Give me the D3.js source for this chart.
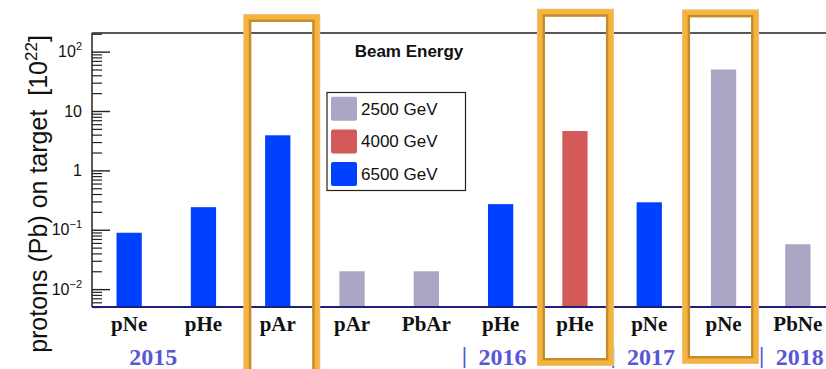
<!DOCTYPE html>
<html>
<head>
<meta charset="utf-8">
<script src="https://cdn.jsdelivr.net/npm/d3@7"></script>
<style>
  body { margin: 0; background: #fff; }
  svg { display: block; }
  text { white-space: pre; }
</style>
</head>
<body>
<svg id="chart" width="826" height="369"></svg>
<script>
// data
var targets = ["pNe", "pHe", "pAr", "pAr", "PbAr", "pHe", "pHe", "pNe", "pNe", "PbNe"];
var energies = [6500, 6500, 6500, 2500, 2500, 6500, 4000, 6500, 2500, 2500];
var protonsOnTarget = [0.089, 0.24, 3.9, 0.020, 0.020, 0.27, 4.6, 0.29, 50, 0.057];
var energyLabels = ["2500 GeV", "4000 GeV", "6500 GeV"];
var energyKeys = [2500, 4000, 6500];
var yearLabels = ["2015", "2016", "2017", "2018"];
var yearStart = [0.5, 5, 7, 9];      // in bins
var highlighted = [2, 6, 8];         // boxed bins
var majorTicks = [0.01, 0.1, 1, 10, 100];

var margin = {top: 33, left: 92, bottom: 307, right: 835};
var svg = d3.select("#chart");

var x = d3.scaleBand()
    .domain(d3.range(targets.length))
    .range([margin.left, margin.right])
    .paddingInner(0.66)
    .paddingOuter(0.33);

var y = d3.scaleLog()
    .domain([0.005, 206])
    .range([margin.bottom, margin.top]);

var color = d3.scaleOrdinal()
    .domain(energyKeys)
    .range(["#aba6c3", "#d35a58", "#0040ff"]);

// bars
svg.append("g").selectAll("rect")
    .data(protonsOnTarget)
    .enter().append("rect")
    .attr("x", function (d, i) { return x(i); })
    .attr("y", function (d) { return y(d); })
    .attr("width", x.bandwidth())
    .attr("height", function (d) { return y(0.005) - y(d); })
    .attr("fill", function (d, i) { return color(energies[i]); });

// frame
svg.append("line")
    .attr("x1", margin.left).attr("x2", 826)
    .attr("y1", margin.top).attr("y2", margin.top)
    .attr("stroke", "#222").attr("stroke-width", 1.5);
svg.append("line")
    .attr("x1", margin.left).attr("x2", margin.left)
    .attr("y1", margin.top).attr("y2", margin.bottom)
    .attr("stroke", "#222").attr("stroke-width", 1.5);

// minor ticks
var minor = [];
[0.001, 0.01, 0.1, 1, 10, 100].forEach(function (dec) {
    for (var k = 2; k <= 9; k++) {
        var v = dec * k;
        if (v >= 0.005 && v <= 206) minor.push(v);
    }
});
svg.append("g")
    .attr("transform", "translate(" + margin.left + ",0)")
    .call(d3.axisLeft(y).tickValues(minor).tickSize(-10).tickFormat(""))
    .call(function (g) { g.select(".domain").remove(); })
    .selectAll("line").attr("stroke", "#222").attr("stroke-width", 1.2);

// major ticks + labels
var gy = svg.append("g")
    .attr("transform", "translate(" + margin.left + ",0)")
    .call(d3.axisLeft(y).tickValues(majorTicks).tickSize(-18).tickPadding(10));
gy.select(".domain").remove();
gy.selectAll("line").attr("stroke", "#222").attr("stroke-width", 1.4);
gy.selectAll("text")
    .attr("font-family", "'Liberation Sans', Arial, sans-serif")
    .attr("font-size", 16)
    .attr("fill", "#111")
    .each(function (d) {
        var t = d3.select(this).text("");
        var e = Math.round(Math.log10(d));
        if (e === 0) { t.text("1"); return; }
        if (e === 1) { t.text("10"); return; }
        t.append("tspan").text("10");
        t.append("tspan").attr("dy", -7).attr("font-size", 11)
            .text(e < 0 ? "\u2212" + (-e) : e);
    });

// bottom axis line
svg.append("line")
    .attr("x1", margin.left).attr("x2", 826)
    .attr("y1", margin.bottom).attr("y2", margin.bottom)
    .attr("stroke", "#1f1f78").attr("stroke-width", 2.2);

// category labels
svg.append("g").selectAll("text")
    .data(targets)
    .enter().append("text")
    .attr("x", function (d, i) { return x(i) + x.bandwidth() / 2; })
    .attr("y", 331)
    .attr("text-anchor", "middle")
    .attr("font-family", "'Liberation Serif', 'Times New Roman', serif")
    .attr("font-weight", "bold")
    .attr("font-size", 21)
    .attr("fill", "#111")
    .text(function (d) { return d; });

// year labels
var yg = svg.append("g")
    .attr("font-family", "'Liberation Serif', 'Times New Roman', serif")
    .attr("font-weight", "bold")
    .attr("font-size", 24)
    .attr("fill", "#5757d9");
yearLabels.forEach(function (yr, i) {
    var x0 = margin.left + yearStart[i] * x.step();
    if (i > 0) {
        yg.append("text").attr("x", x0 + 1).attr("y", 363).attr("text-anchor", "middle").text("|");
        yg.append("text").attr("x", x0 + 15).attr("y", 365).text(yr);
    } else {
        yg.append("text").attr("x", x0).attr("y", 365).text(yr);
    }
});

// y title
var yt = svg.append("text")
    .attr("transform", "translate(47,194) rotate(-90)")
    .attr("text-anchor", "middle")
    .attr("font-family", "'Liberation Sans', Arial, sans-serif")
    .attr("font-size", 25)
    .attr("fill", "#111");
yt.append("tspan").text("protons (Pb) on target  [10");
yt.append("tspan").attr("dy", -10).attr("font-size", 17).text("22");
yt.append("tspan").attr("dy", 10).text("]");

// legend
svg.append("text")
    .attr("x", 409).attr("y", 57)
    .attr("text-anchor", "middle")
    .attr("font-family", "'Liberation Sans', Arial, sans-serif")
    .attr("font-weight", "bold")
    .attr("font-size", 17)
    .attr("fill", "#111")
    .text("Beam Energy");

var lg = svg.append("g");
lg.append("rect")
    .attr("x", 327).attr("y", 92.5)
    .attr("width", 138.5).attr("height", 98)
    .attr("fill", "#fff").attr("stroke", "#222").attr("stroke-width", 1.2);
energyKeys.forEach(function (k, i) {
    var cy = 108.7 + i * 32.7;
    lg.append("rect")
        .attr("x", 331).attr("y", cy - 12)
        .attr("width", 26).attr("height", 24)
        .attr("rx", 2)
        .attr("fill", color(k));
    lg.append("text")
        .attr("x", 361).attr("y", cy + 6)
        .attr("font-family", "'Liberation Sans', Arial, sans-serif")
        .attr("font-size", 17)
        .attr("fill", "#111")
        .text(energyLabels[i]);
});

// highlight boxes around selected bins
var boxTop = [14, 8.7, 9.3],
    boxBottom = [378, 366, 364],
    boxShift = [4, 0.5, -3];
highlighted.forEach(function (b, i) {
    var cx = x(b) + x.bandwidth() / 2 + boxShift[i];
    var l = cx - 38.5, r = cx + 38.5;
    var g = svg.append("g");
    g.append("rect")
        .attr("x", l + 4).attr("y", boxTop[i] + 4)
        .attr("width", r - l - 8).attr("height", boxBottom[i] - boxTop[i] - 8)
        .attr("fill", "none").attr("stroke", "#ecc27c").attr("stroke-width", 8);
    g.append("rect")
        .attr("x", l + 4).attr("y", boxTop[i] + 4)
        .attr("width", r - l - 8).attr("height", boxBottom[i] - boxTop[i] - 8)
        .attr("fill", "none").attr("stroke", "#f6b43c").attr("stroke-width", 6);
    g.append("rect")
        .attr("x", l + 6.8).attr("y", boxTop[i] + 6.8)
        .attr("width", r - l - 13.6).attr("height", boxBottom[i] - boxTop[i] - 13.6)
        .attr("fill", "none").attr("stroke", "#c48c31").attr("stroke-width", 2.4);
});
</script>
</body>
</html>
